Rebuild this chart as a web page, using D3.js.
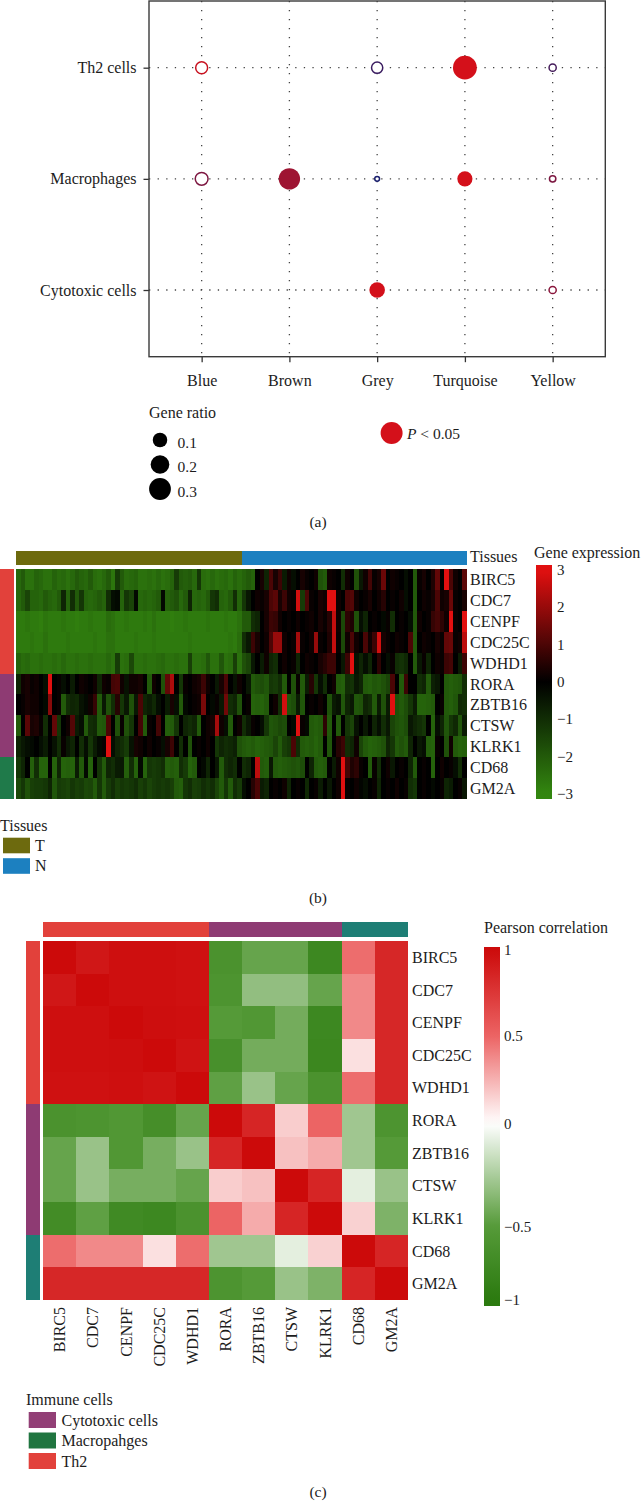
<!DOCTYPE html>
<html><head><meta charset="utf-8">
<script src="https://cdn.jsdelivr.net/npm/d3@7"></script>
<style>
body{margin:0;background:#fff}
svg{display:block}
text{font-family:"Liberation Serif","Times New Roman",serif;fill:#1c1c1c}
</style>
</head><body>
<svg id="fig" width="643" height="1501"></svg>
<script>
// ================= Panel (a) data =================
const modules   = ["Blue","Brown","Grey","Turquoise","Yellow"];
const cellTypes = ["Th2 cells","Macrophages","Cytotoxic cells"];
const dotCell   = ["Th2 cells","Th2 cells","Th2 cells","Th2 cells","Macrophages","Macrophages","Macrophages","Macrophages","Macrophages","Cytotoxic cells","Cytotoxic cells"];
const dotModule = ["Blue","Grey","Turquoise","Yellow","Blue","Brown","Grey","Turquoise","Yellow","Grey","Yellow"];
const geneRatio = [0.071,0.059,0.36,0.013,0.086,0.273,0.0015,0.105,0.008,0.114,0.013];
const pValue    = [0.065,0.83,0.001,0.77,0.47,0.29,1.0,0.002,0.47,0.003,0.40];
const significant = [false,false,true,false,false,true,false,true,false,true,false];
const ratioBreaks = [0.1,0.2,0.3];

// ================= Panel (b) data =================
const tissueGroups = ["T","N"];
const samplesPerGroup = [50,50];
const exprGenes = ["BIRC5","CDC7","CENPF","CDC25C","WDHD1","RORA","ZBTB16","CTSW","KLRK1","CD68","GM2A"];
const geneCellType = ["Th2","Th2","Th2","Th2","Th2","Cytotoxic cells","Cytotoxic cells","Cytotoxic cells","Cytotoxic cells","Macrophages","Macrophages"];
const BIRC5 = [-2.3,-2.0,-2.5,-2.5,-2.2,-2.3,-2.5,-2.5,-2.2,-2.4,-2.3,-2.5,-2.3,-2.0,-2.2,-2.3,-2.0,-2.4,-2.5,-2.3,-2.0,-2.6,-1.3,-2.0,-2.4,
  -2.3,-2.2,-2.5,-2.5,-2.4,-2.5,-2.3,-2.5,-2.4,-2.2,-1.3,-2.0,-2.1,-2.0,-2.3,-1.2,-2.4,-2.5,-2.3,-2.5,-2.4,-2.3,-2.5,-2.2,-2.4,
  -2.2,-2.0,-2.2,0,0.3,-0.8,1.0,0.3,0.8,-0.6,0.2,-0.3,0,0.3,0.1,0,0.2,-1.8,-2.0,0.2,0.1,0,-1.0,0.2,0,-1.8,-0.5,
  0.2,0.9,0.1,0.3,1.4,0,0.2,0.1,0,-0.3,0,-2.0,0.1,0.3,0,0.4,1.3,0,3.0,1.0,0.2,0,1.2];
const CDC7 = [-2.3,-2.0,-1.5,-2.2,-2.2,-2.3,-2.0,-2.2,-2.3,-2.0,-0.8,-2.2,-1.0,-2.0,-1.2,-2.2,-2.3,-2.2,-2.0,-2.2,-1.0,-0.3,-0.2,-2.2,-1.2,
  -1.5,-0.2,-2.3,-2.2,-2.3,-2.2,-2.0,-0.2,-2.2,-2.0,-1.8,-2.3,-2.0,-0.8,-2.3,-2.2,-2.3,-2.0,-1.2,-1.0,-2.2,-2.3,-2.0,-1.0,-2.2,
  -1.2,-0.5,0,0.2,0.1,0.3,1.0,1.2,0.3,0.8,0.2,0.1,2.8,-1.3,1.0,0.1,0,0.3,0.2,3.0,3.0,0.2,0,1.0,1.1,0.2,0,
  0.1,0.3,0,0.2,0.5,0,0.1,0,0.2,-0.3,0,-2.0,0,0.2,0.1,0.3,1.0,0.2,0.3,1.4,0.1,0,0.3];
const CENPF = [-2.7,-2.7,-2.6,-2.7,-2.7,-2.8,-2.6,-2.7,-2.7,-2.7,-2.6,-2.7,-2.7,-2.8,-2.7,-2.7,-2.6,-2.7,-2.7,-2.7,-2.4,-2.5,-2.7,-2.7,-2.6,
  -2.7,-2.7,-2.7,-2.6,-2.7,-2.5,-2.7,-2.7,-2.7,-2.8,-2.7,-2.7,-2.6,-2.7,-2.7,-2.7,-2.7,-2.6,-2.7,-2.7,-2.7,-2.6,-2.7,-2.7,-2.5,
  -2.0,-2.0,-1.0,-0.8,0,0.3,0.8,0.7,0.2,0,0.1,0,0.2,0,0.1,0.2,0,0.3,0.1,0.5,2.6,0.2,-1.6,0.6,0.4,-1.8,-0.3,
  -0.8,0,0.1,0,-0.2,0.1,-1.0,0,0.1,0,-0.3,-2.0,0.2,0,0.1,0.7,0.9,0.6,0.2,3.0,0.1,0,3.0];
const CDC25C = [-2.7,-2.7,-2.7,-2.6,-2.7,-2.7,-2.5,-2.7,-2.7,-2.7,-2.7,-2.6,-2.7,-2.7,-2.7,-2.7,-2.7,-2.6,-2.7,-2.7,-2.5,-2.5,-2.7,-2.7,-2.7,
  -2.7,-2.6,-2.7,-2.7,-2.7,-2.6,-2.7,-2.7,-2.7,-2.7,-2.7,-2.7,-2.7,-2.6,-2.7,-2.7,-2.7,-2.7,-2.7,-2.7,-2.7,-2.7,-2.6,-2.7,-2.4,
  -1.0,-0.5,0.8,0.3,0,0.2,1.0,2.0,2.0,0.2,0,0.1,2.2,0.1,0,0.2,2.0,0.1,0,0.4,2.6,0.1,-1.6,0.2,1.0,0.2,0,
  1.0,0.2,0.8,2.8,0.3,0.1,0,0.2,0.1,0,1.0,-2.0,0,0.2,0.1,0,0.3,0.1,1.3,1.4,0.1,0.2,2.5];
const WDHD1 = [-2.2,-2.4,-2.3,-2.5,-2.5,-2.4,-2.5,-2.5,-2.4,-2.5,-2.3,-2.5,-2.5,-2.4,-2.5,-2.5,-2.4,-2.5,-2.5,-2.5,-2.3,-2.5,-1.3,-2.5,-2.4,
  -1.6,-2.5,-2.5,-2.4,-2.5,-2.5,-2.4,-2.3,-2.5,-2.5,-2.4,-2.5,-2.5,-1.4,-2.5,-2.5,-2.4,-1.9,-2.5,-2.5,-1.9,-2.5,-2.4,-1.4,-2.5,
  -1.8,-1.5,-0.5,0,-0.6,0.2,-0.8,-1.0,0,0.2,0,0.1,-0.8,0,0.2,0.1,0,0.3,0.5,0.8,0.8,0,-0.5,0.8,3.0,-0.4,-0.8,
  -0.3,-0.8,0,0.6,0,-0.3,0.1,-1.0,-1.1,-0.9,0,-2.0,-0.5,0.1,-0.8,0,0.2,0.1,0.8,0.9,0,-0.6,0.8];
const RORA = [-0.8,0.2,0.3,0.1,0.2,0,-0.3,3.0,0,0.1,-0.3,0,-0.6,0,0.2,0.1,0,0.2,-0.8,0.2,0.1,0.9,1.0,0.2,-0.4,
  0.2,0.2,0.3,0,-2.0,0.2,0,-1.8,1.3,2.3,0,-1.2,0.1,0,0.2,0.3,0.8,0.2,0,-0.5,0.3,1.0,0,-0.4,0.2,
  0,-0.5,-2.0,-1.8,-1.7,-1.9,-1.2,-1.3,-1.0,-2.0,0,-1.8,0.1,-2.0,-0.6,0.5,-1.2,-0.3,-1.0,0,0.2,-2.0,-2.1,-1.0,-1.1,-0.5,-0.8,
  -2.0,-2.1,-1.9,-2.0,-1.8,-1.5,1.0,0,-2.0,0.8,0,0,-1.0,-0.8,-2.0,-0.7,-0.5,0,-2.0,-2.1,-2.0,-1.9,-1.0];
const ZBTB16 = [0,0.1,0.3,0.2,0.2,0,-0.2,1.8,0,0.1,-2.0,-1.0,-0.8,-0.9,-0.4,-0.2,0.2,0.7,-2.0,-0.5,-1.8,-1.0,0.5,-1.2,-0.5,
  -1.8,-0.5,1.0,-0.8,-0.6,-0.9,-0.3,0,-0.6,0.3,-0.3,-2.0,-0.2,0,0.1,0.2,1.6,0,-0.2,0.1,-0.5,1.5,-1.0,-0.8,-1.8,
  0,0.1,-2.2,-2.1,-2.2,-2.0,0,0.2,-1.0,2.8,-1.9,-1.7,-0.6,-1.9,0,0.1,0,0.2,0,-1.8,-0.6,-0.4,-1.9,-0.8,-0.5,-1.9,-1.8,
  -0.8,-1.0,-2.0,-0.6,-1.8,-0.6,3.0,-1.8,-2.0,-1.7,-1.2,-0.6,-2.2,-2.2,-2.1,-2.0,0,0.1,-2.0,-2.1,-1.9,-0.9,-1.0];
const CTSW = [-2.0,0,1.2,0.3,0.4,0.1,-1.0,0,1.3,-1.2,0,0.2,1.1,-0.6,-0.3,-2.0,-1.0,-0.9,-2.0,-1.9,1.0,0,-1.8,0.1,-1.8,
  -1.2,0,0.9,-2.0,0.1,0,0.9,0,-2.1,-2.0,-1.2,0,-0.8,-1.0,-0.8,-2.0,0,0.2,0.3,2.2,0.2,-0.3,-2.0,0,0.2,
  -1.0,-0.5,0.1,0,-0.3,-1.2,-1.9,-1.8,-1.6,-1.7,0,-0.2,3.0,0.1,-0.2,-2.0,-2.1,-2.0,0.6,-2.0,0,-2.0,0,-1.2,-1.5,-0.4,0,
  -0.5,0,-0.8,-0.3,-1.0,-0.5,-1.5,-1.8,-1.9,-1.7,-0.5,-0.8,-1.0,-1.2,0,-2.2,-0.3,-0.8,-1.9,-1.2,-0.9,-1.9,-0.6];
const KLRK1 = [-0.8,-0.5,-0.3,-0.2,0,-0.3,-0.6,0,-0.4,-1.0,0.1,-0.5,-0.8,0,-1.0,-0.3,-1.2,-0.6,-0.2,0.1,3.0,-0.3,-0.8,-1.0,-1.3,
  -0.4,0.3,0.2,0,0.2,0,0.1,-0.3,0.3,0.8,0,-1.0,0,-1.8,0,0.1,0,0.2,0,-1.2,-0.8,-1.0,-0.9,-0.7,-1.8,
  -2.0,-2.1,-2.0,-2.2,-2.1,-2.0,-1.9,-1.5,-2.0,-1.4,-1.2,1.0,-1.0,-2.0,-2.1,-2.0,-2.2,-2.0,0,-1.9,0,0.5,0.8,-1.0,-0.8,0.2,-1.5,
  -2.0,-2.2,-2.1,-2.0,-1.8,-0.8,-1.2,-2.0,-1.8,-2.0,-0.8,0,-0.5,-0.3,-2.1,-2.2,0.1,0,-1.8,0.2,-2.0,-2.2,-2.1];
const CD68 = [-1.2,-0.8,0,-2.1,-1.0,-2.2,-2.2,0,-2.2,-0.8,-2.2,-2.1,-2.2,-0.6,-2.0,-0.2,-2.2,0,-1.2,-2.0,-0.8,-1.0,-0.6,-0.5,-2.1,
  -1.0,-2.2,-0.2,-2.2,-1.2,-1.3,-1.2,-1.0,-2.1,-2.0,-2.1,-1.0,-1.3,-2.2,-2.0,0,-0.2,-0.8,0,-0.5,-2.0,-1.0,-0.8,-1.0,0,
  -1.0,-0.8,0,2.5,-2.0,-2.1,-0.5,-2.0,-2.1,-2.0,-1.9,-1.8,-1.9,-1.7,0,-0.8,-2.0,-2.1,-2.0,0,-0.6,0.2,3.0,0.9,0.4,0.6,0.1,
  0,-2.0,0.1,-1.0,0,0.2,-0.5,0,0.1,0,-0.8,-2.0,0,0.1,0,-2.2,0,0.2,0,0.1,-0.3,-1.0,0];
const GM2A = [-1.6,-1.2,-1.8,-1.4,-1.3,-1.3,-1.2,-0.8,-1.9,-1.3,-1.4,-1.5,-1.2,-1.4,-1.3,-1.6,-1.5,-2.0,-1.2,-2.0,-1.3,-1.0,-1.4,-1.2,-1.3,
  -1.2,-1.0,-1.4,-1.2,-1.5,-1.3,-1.2,-1.3,-1.2,-1.4,-2.0,-2.1,-1.2,-1.0,-1.4,-1.3,-1.0,-1.2,-1.0,-1.5,-2.0,-1.2,-2.0,-1.0,-1.3,
  -0.3,0,0.5,1.0,-0.6,-0.8,0,0.1,0,0.2,-0.8,0,0.1,0,-0.9,0,0.1,-0.6,0,-0.5,0,0.2,3.0,0.1,0,0.2,-0.1,
  -0.3,0,0.1,-0.8,0,0.1,0,0.2,0,0.1,-1.0,-1.2,0,0.1,0,-0.2,0,0.1,-0.8,-0.6,0,0.1,-0.5];
const exprRows = [BIRC5,CDC7,CENPF,CDC25C,WDHD1,RORA,ZBTB16,CTSW,KLRK1,CD68,GM2A];
const exprTicks = [3,2,1,0,-1,-2,-3];

// ================= Panel (c) data =================
const corrGenes = ["BIRC5","CDC7","CENPF","CDC25C","WDHD1","RORA","ZBTB16","CTSW","KLRK1","CD68","GM2A"];
const corrBIRC5  = [1.0,0.93,0.97,0.97,0.96,-0.62,-0.45,-0.45,-0.78,0.47,0.84];
const corrCDC7   = [0.93,1.0,0.97,0.97,0.96,-0.6,-0.32,-0.32,-0.45,0.38,0.84];
const corrCENPF  = [0.97,0.97,1.0,0.98,0.97,-0.5,-0.55,-0.41,-0.78,0.38,0.84];
const corrCDC25C = [0.97,0.97,0.98,1.0,0.95,-0.65,-0.41,-0.41,-0.8,0.1,0.84];
const corrWDHD1  = [0.96,0.96,0.97,0.95,1.0,-0.47,-0.3,-0.45,-0.62,0.47,0.84];
const corrRORA   = [-0.62,-0.6,-0.55,-0.68,-0.45,1.0,0.85,0.16,0.5,-0.28,-0.6];
const corrZBTB16 = [-0.45,-0.3,-0.55,-0.4,-0.3,0.85,1.0,0.2,0.27,-0.28,-0.5];
const corrCTSW   = [-0.45,-0.3,-0.4,-0.4,-0.45,0.16,0.2,1.0,0.85,-0.08,-0.3];
const corrKLRK1  = [-0.72,-0.47,-0.75,-0.78,-0.62,0.5,0.27,0.85,1.0,0.15,-0.38];
const corrCD68   = [0.47,0.38,0.38,0.1,0.47,-0.28,-0.28,-0.08,0.15,1.0,0.85];
const corrGM2A   = [0.84,0.84,0.84,0.84,0.84,-0.6,-0.5,-0.3,-0.38,0.85,1.0];
const corrRows = [corrBIRC5,corrCDC7,corrCENPF,corrCDC25C,corrWDHD1,corrRORA,corrZBTB16,corrCTSW,corrKLRK1,corrCD68,corrGM2A];
const corrTicks = [1,0.5,0,-0.5,-1];
const immuneLegend = ["Cytotoxic cells","Macropahges","Th2"];

// ================= Drawing =================
const svg = d3.select("#fig");
svg.append("rect").attr("width",643).attr("height",1501).attr("fill","#fff");
const fmt = v => (v<0 ? "\u2212" : "") + Math.abs(v);

// ---------- (a) dot plot ----------
const A = {l:149, r:605.3, t:1, b:356.7};
const xA = d3.scalePoint().domain(modules).range([A.l, A.r]).padding(0.6);
const yA = d3.scalePoint().domain(cellTypes).range([A.t, A.b]).padding(0.6);
const rA = d3.scaleSqrt().domain([0, 0.3]).range([2.5, 11.1]);
const colA = d3.scaleLinear().domain([0, 1]).range(["#d4101a", "#1a1f6e"]);
const gA = svg.append("g");

gA.selectAll("line.vg").data(modules).join("line")
  .attr("x1", d=>xA(d)).attr("x2", d=>xA(d)).attr("y1", A.t).attr("y2", A.b)
  .attr("stroke","#444").attr("stroke-width",1.3).attr("stroke-dasharray","1.3,7.7");
gA.selectAll("line.hg").data(cellTypes).join("line")
  .attr("y1", d=>yA(d)).attr("y2", d=>yA(d)).attr("x1", A.l).attr("x2", A.r)
  .attr("stroke","#444").attr("stroke-width",1.3).attr("stroke-dasharray","1.3,7.3");

const axL = gA.append("g").attr("transform",`translate(${A.l},0)`)
  .call(d3.axisLeft(yA).tickSize(5.5).tickPadding(7));
const axB = gA.append("g").attr("transform",`translate(0,${A.b})`)
  .call(d3.axisBottom(xA).tickSize(5.5).tickPadding(12));
[axL, axB].forEach(ax => {
  ax.select(".domain").remove();
  ax.selectAll(".tick line").attr("stroke","#333").attr("stroke-width",1.3);
  ax.selectAll(".tick text").attr("font-size",16).attr("fill","#1c1c1c")
    .attr("font-family","'Liberation Serif',serif");
});
gA.append("rect").attr("x",A.l).attr("y",A.t).attr("width",A.r-A.l).attr("height",A.b-A.t)
  .attr("fill","none").attr("stroke","#3a3a3a").attr("stroke-width",1.4);

const dots = geneRatio.map((g,i)=>({cell:dotCell[i], mod:dotModule[i], ratio:g, p:pValue[i], sig:significant[i]}));
gA.selectAll("circle.dot").data(dots).join("circle")
  .attr("cx", d=>xA(d.mod)).attr("cy", d=>yA(d.cell))
  .attr("r", d=> d.sig ? rA(d.ratio) : rA(d.ratio)-0.7)
  .attr("fill", d=> d.sig ? colA(d.p) : "#fff")
  .attr("stroke", d=> d.sig ? "none" : colA(d.p))
  .attr("stroke-width", 1.5);

// legend: gene ratio
gA.append("text").attr("x",149).attr("y",418).attr("font-size",16).text("Gene ratio");
const legY = d3.scalePoint().domain(ratioBreaks).range([440, 489]);
gA.selectAll("circle.leg").data(ratioBreaks).join("circle")
  .attr("cx",160).attr("cy",d=>legY(d)).attr("r",d=>rA(d)-0.2).attr("fill","#000");
gA.selectAll("text.leg").data(ratioBreaks).join("text")
  .attr("x",177.5).attr("y",d=>legY(d)+7.5).attr("font-size",15.5).text(d=>d.toFixed(1));
// legend: P < 0.05
gA.append("circle").attr("cx",391.6).attr("cy",433).attr("r",11).attr("fill",colA(0.001));
const pt = gA.append("text").attr("x",407).attr("y",439).attr("font-size",15.5);
pt.append("tspan").attr("font-style","italic").text("P");
pt.append("tspan").text(" < 0.05");
svg.append("text").attr("x",318).attr("y",527).attr("text-anchor","middle").attr("font-size",15.5).text("(a)");

// ---------- (b) expression heatmap ----------
const samples = [];
tissueGroups.forEach((t,gi)=>{ for(let k=0;k<samplesPerGroup[gi];k++) samples.push({id:samples.length, tissue:t}); });
const B = {l:16.4, r:466.8, t:569.3, b:798.7};
const xB = d3.scaleBand().domain(samples.map(s=>s.id)).range([B.l, B.r]);
const yB = d3.scaleBand().domain(exprGenes).range([B.t, B.b]);
const colB = d3.scaleLinear().domain([-3,0,3]).range(["#33870f","#000000","#e21010"]).clamp(true);
const tissueCol = d3.scaleOrdinal().domain(tissueGroups).range(["#6d6a0e","#1c80c0"]);
const cellColB = d3.scaleOrdinal().domain(["Th2","Cytotoxic cells","Macrophages"]).range(["#e2413b","#8e3b73","#1f7a4a"]);
const gB = svg.append("g");

const cellsB = [];
exprRows.forEach((row,ri)=>row.forEach((v,ci)=>cellsB.push({g:exprGenes[ri], s:ci, v})));
gB.selectAll("rect.cell").data(cellsB).join("rect")
  .attr("x", d=>xB(d.s)).attr("y", d=>yB(d.g))
  .attr("width", xB.bandwidth()+0.4).attr("height", yB.bandwidth()+0.4)
  .attr("fill", d=>colB(d.v)).attr("shape-rendering","crispEdges");
// top annotation
gB.selectAll("rect.ann").data(samples).join("rect")
  .attr("x", d=>xB(d.id)).attr("y",551).attr("width",xB.bandwidth()+0.4).attr("height",14)
  .attr("fill", d=>tissueCol(d.tissue)).attr("shape-rendering","crispEdges");
// left annotation
gB.selectAll("rect.lann").data(exprGenes).join("rect")
  .attr("x",0).attr("y", d=>yB(d)).attr("width",13.5).attr("height", yB.bandwidth()+0.4)
  .attr("fill", (d,i)=>cellColB(geneCellType[i])).attr("shape-rendering","crispEdges");
gB.selectAll("text.rl").data(exprGenes).join("text")
  .attr("x",470).attr("y", d=>yB(d)+yB.bandwidth()/2+5.6).attr("font-size",16).text(d=>d);
gB.append("text").attr("x",470).attr("y",561.5).attr("font-size",16).text("Tissues");
gB.append("text").attr("x",534).attr("y",558).attr("font-size",16).text("Gene expression");
// colour bar
const lbY = d3.scaleLinear().domain([-3,3]).range([794,570]);
const defs = svg.append("defs");
const gradB = defs.append("linearGradient").attr("id","gradB").attr("x1",0).attr("x2",0).attr("y1",0).attr("y2",1);
d3.range(0,31).forEach(i=>{ const y=565+i*(234/30); gradB.append("stop").attr("offset",(i/30*100)+"%").attr("stop-color",colB(lbY.invert(y))); });
gB.append("rect").attr("x",536).attr("y",565).attr("width",16).attr("height",234).attr("fill","url(#gradB)");
gB.selectAll("text.bt").data(exprTicks).join("text")
  .attr("x",557).attr("y",d=>lbY(d)+5).attr("font-size",15).text(d=>fmt(d));
// legend
gB.append("text").attr("x",0).attr("y",830.5).attr("font-size",16).text("Tissues");
const legB = d3.scalePoint().domain(tissueGroups).range([845.5,866]);
gB.selectAll("rect.tl").data(tissueGroups).join("rect")
  .attr("x",3).attr("y",d=>legB(d)-7.8).attr("width",27).attr("height",15.6).attr("fill",d=>tissueCol(d));
gB.selectAll("text.tl").data(tissueGroups).join("text")
  .attr("x",35).attr("y",d=>legB(d)+5.3).attr("font-size",16).text(d=>d);
svg.append("text").attr("x",318).attr("y",903).attr("text-anchor","middle").attr("font-size",15.5).text("(b)");

// ---------- (c) correlation heatmap ----------
const C = {l:43, r:408, t:941, b:1300};
const xC = d3.scaleBand().domain(corrGenes).range([C.l, C.r]);
const yC = d3.scaleBand().domain(corrGenes).range([C.t, C.b]);
const colC = d3.scaleLinear().domain([-1,-0.5,0,0.5,1]).range(["#2b7a0f","#559a38","#ffffff","#ec6464","#cc0a0a"]).clamp(true);
const cellColC = d3.scaleOrdinal().domain(["Th2","Cytotoxic cells","Macrophages"]).range(["#e2413b","#8e3b73","#1e7e75"]);
const legColC = d3.scaleOrdinal().domain(immuneLegend).range(["#923f76","#207540","#e2413b"]);
const gC = svg.append("g");
const cellsC = [];
corrRows.forEach((row,ri)=>row.forEach((v,ci)=>cellsC.push({r:corrGenes[ri], c:corrGenes[ci], v})));
gC.selectAll("rect.cell").data(cellsC).join("rect")
  .attr("x", d=>xC(d.c)).attr("y", d=>yC(d.r))
  .attr("width", xC.bandwidth()+0.4).attr("height", yC.bandwidth()+0.4)
  .attr("fill", d=>colC(d.v)).attr("shape-rendering","crispEdges");
gC.selectAll("rect.tann").data(corrGenes).join("rect")
  .attr("x", d=>xC(d)).attr("y",922).attr("width",xC.bandwidth()+0.4).attr("height",14.7)
  .attr("fill",(d,i)=>cellColC(geneCellType[i])).attr("shape-rendering","crispEdges");
gC.selectAll("rect.lann").data(corrGenes).join("rect")
  .attr("x",25.8).attr("y", d=>yC(d)).attr("width",14.4).attr("height",yC.bandwidth()+0.4)
  .attr("fill",(d,i)=>cellColC(geneCellType[i])).attr("shape-rendering","crispEdges");
gC.selectAll("text.rl").data(corrGenes).join("text")
  .attr("x",412).attr("y", d=>yC(d)+yC.bandwidth()/2+5.6).attr("font-size",16).text(d=>d);
gC.selectAll("text.cl").data(corrGenes).join("text")
  .attr("transform", d=>`translate(${xC(d)+xC.bandwidth()/2},1307) rotate(-90)`)
  .attr("text-anchor","end").attr("dy","0.35em").attr("font-size",16).text(d=>d);
gC.append("text").attr("x",484).attr("y",933).attr("font-size",16).text("Pearson correlation");
const lcY = d3.scaleLinear().domain([-1,-0.5,0,0.5,1]).range([1300,1226.7,1123.5,1036,949.5]);
const gradC = defs.append("linearGradient").attr("id","gradC").attr("x1",0).attr("x2",0).attr("y1",0).attr("y2",1);
d3.range(0,41).forEach(i=>{ const y=947+i*(359/40); gradC.append("stop").attr("offset",(i/40*100)+"%").attr("stop-color",colC(lcY.invert(y))); });
gC.append("rect").attr("x",484).attr("y",947).attr("width",16).attr("height",359).attr("fill","url(#gradC)");
gC.selectAll("text.ct").data(corrTicks).join("text")
  .attr("x",504).attr("y",d=>lcY(d)+5).attr("font-size",15).text(d=>fmt(d));
// legend
gC.append("text").attr("x",26).attr("y",1405).attr("font-size",16).text("Immune cells");
const legC = d3.scalePoint().domain(immuneLegend).range([1420,1461]);
gC.selectAll("rect.il").data(immuneLegend).join("rect")
  .attr("x",28.7).attr("y",d=>legC(d)-8).attr("width",27.3).attr("height",16).attr("fill",d=>legColC(d));
gC.selectAll("text.il").data(immuneLegend).join("text")
  .attr("x",61.5).attr("y",d=>legC(d)+5.5).attr("font-size",16).text(d=>d);
svg.append("text").attr("x",318).attr("y",1497).attr("text-anchor","middle").attr("font-size",15.5).text("(c)");
</script>
</body></html>
